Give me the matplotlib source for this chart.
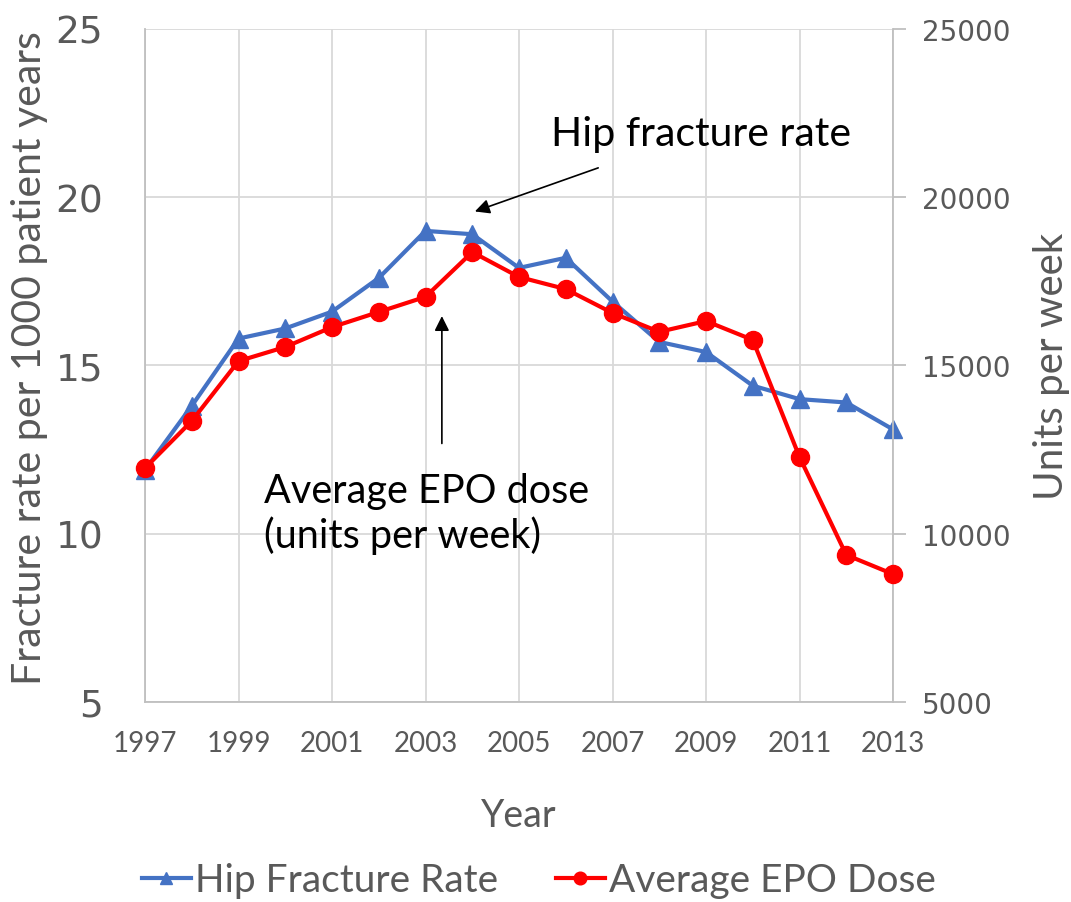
import matplotlib
matplotlib.use("Agg")
import matplotlib.pyplot as plt
import numpy as np

years = np.arange(1997, 2014)
hip_rate = [11.9, 13.8, 15.8, 16.1, 16.6, 17.6, 19.0, 18.9, 17.9, 18.2,
            16.9, 15.7, 15.4, 14.4, 14.0, 13.9, 13.1]
epo_dose = [11950, 13350, 15130, 15550, 16140, 16590, 17040, 18370, 17630,
            17270, 16560, 16000, 16320, 15760, 12280, 9370, 8800]
left_ticks = [5, 10, 15, 20, 25]
right_ticks = [5000, 10000, 15000, 20000, 25000]
year_ticks = np.arange(1997, 2014, 2)

grey = '#595959'
grid_c = '#d9d9d9'
blue = '#4472C4'
red = '#FF0000'
main_font = ['Lato', 'DejaVu Sans']

fig = plt.figure(figsize=(10.71, 9.03), dpi=100)
ax = fig.add_axes([0.1354, 0.2215, 0.6984, 0.7453])
ax2 = ax.twinx()

ax.plot(years, hip_rate, color=blue, lw=3, marker='^', ms=13,
        label='Hip Fracture Rate', zorder=3, clip_on=False)
ax2.plot(years, epo_dose, color=red, lw=3, marker='o', ms=13,
         label='Average EPO Dose', zorder=3, clip_on=False)

ax.set_xlim(1997, 2013)
ax.set_ylim(5, 25)
ax2.set_ylim(5000, 25000)
ax.set_yticks(left_ticks)
ax2.set_yticks(right_ticks)
ax.set_xticks(year_ticks)
ax.set_xticklabels([str(y) for y in year_ticks])

ax.grid(True, color=grid_c, lw=1.3)
ax.set_axisbelow(True)
for a in (ax, ax2):
    for s in a.spines.values():
        s.set_visible(False)
ax.spines['left'].set_visible(True)
ax.spines['bottom'].set_visible(True)
ax2.spines['right'].set_visible(True)
for s in (ax.spines['left'], ax.spines['bottom'], ax2.spines['right']):
    s.set_color('#bfbfbf')
    s.set_linewidth(1.3)

ax.tick_params(axis='y', length=0, pad=30, labelsize=27, labelcolor=grey)
ax.tick_params(axis='x', length=0, pad=20, labelsize=20, labelcolor=grey)
for lab in ax.get_xticklabels():
    lab.set_family(main_font)
ax2.tick_params(axis='y', length=9, width=1.3, color='#bfbfbf', pad=12,
                labelsize=20, labelcolor=grey)

ax.set_ylabel('Fracture rate per 1000 patient years', fontsize=29.5,
              color=grey, family=main_font)
ax.yaxis.set_label_coords(-0.13, 0.513)
ax2.set_ylabel('Units per week', fontsize=29, color=grey,
               family=main_font, labelpad=16)
ax.set_xlabel('Year', fontsize=27, color=grey, family=main_font, labelpad=30)

# annotations
ax.annotate('', xy=(2004.0, 19.55), xytext=(2006.75, 20.9),
            arrowprops=dict(arrowstyle='-|>', color='black', lw=1.2,
                            mutation_scale=22))
ax.text(2008.9, 21.9, 'Hip fracture rate', fontsize=29.5, family=main_font,
        ha='center', va='center', color='black')
ax.annotate('', xy=(2003.35, 16.55), xytext=(2003.35, 12.6),
            arrowprops=dict(arrowstyle='-|>', color='black', lw=1.2,
                            mutation_scale=22))
ax.text(1999.55, 10.62, 'Average EPO dose\n(units per week)', fontsize=28.5,
        family=main_font, ha='left', va='center', color='black',
        linespacing=1.2)

h1, l1 = ax.get_legend_handles_labels()
h2, l2 = ax2.get_legend_handles_labels()
leg = fig.legend(h1 + h2, l1 + l2, loc='center', bbox_to_anchor=(0.503, 0.024),
                 ncol=2, frameon=False, prop={'family': main_font, 'size': 28},
                 handlelength=1.25, handletextpad=0.1, columnspacing=1.5,
                 markerscale=0.7)
for t in leg.get_texts():
    t.set_color(grey)

fig.savefig('out.png', dpi=100)
